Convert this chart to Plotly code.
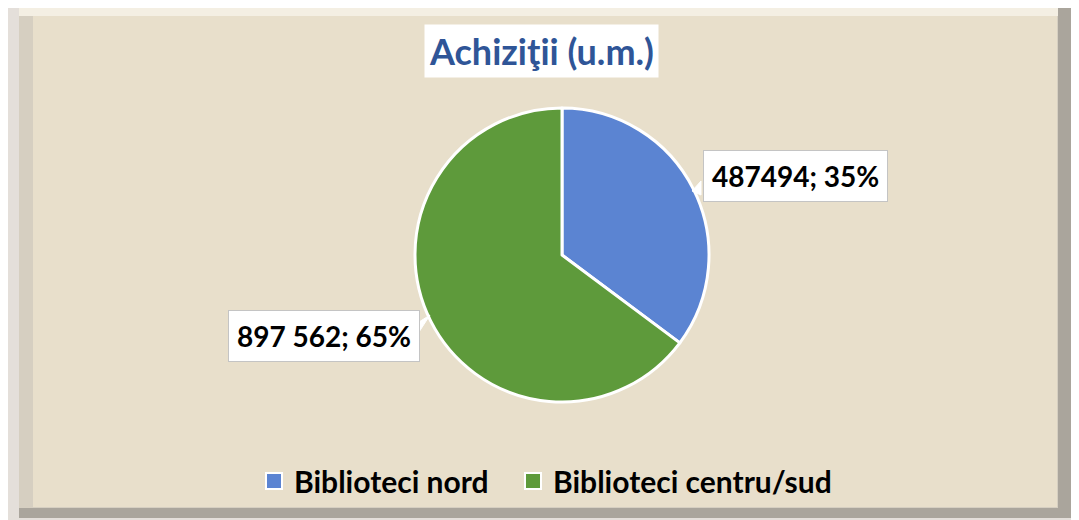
import plotly.graph_objects as go

# data
categories = ["Biblioteci nord", "Biblioteci centru/sud"]
values = [487494, 897562]
value_labels = ["487494", "897 562"]
colors = ["#5b84d2", "#5e9a3b"]
title_text = "Achiziţii (u.m.)"

FONT = "Lato"
W, H = 1079, 520
OFF = 8  # the page body keeps an 8px margin, so pull everything back by that much

total = sum(values)
percents = [round(v * 100 / total) for v in values]


def px_x(x):
    return (x - OFF) / W


def px_y(y):
    return 1 - (y - OFF) / H


fig = go.Figure()
fig.add_trace(go.Pie(labels=categories,
                     values=values,
                     sort=False,
                     direction='clockwise',
                     rotation=0,
                     marker=dict(colors=colors, line=dict(color='white', width=3)),
                     textinfo='none',
                     hoverinfo='label+value+percent',
                     showlegend=False,
                     domain=dict(x=[px_x(562 - 147), px_x(562 + 147)],
                                 y=[px_y(255 + 147), px_y(255 - 147)])))

# legend entries as square markers, one legend each so the gap can be set
legend_ids = ['legend', 'legend2']
for name, color, lg in zip(categories, colors, legend_ids):
    fig.add_trace(go.Scatter(x=[None], y=[None], mode='markers', name=name, legend=lg,
                             marker=dict(symbol='square', size=16, color=color,
                                         line=dict(color='white', width=2))))


def rect(x0, y0, x1, y1, color, line=None):
    return dict(type='rect', xref='paper', yref='paper',
                x0=px_x(x0), x1=px_x(x1), y0=px_y(y1), y1=px_y(y0),
                fillcolor=color, line=line or dict(width=0), layer='below')


def poly(points, color, line_color):
    path = 'M ' + ' L '.join(f'{px_x(x)},{px_y(y)}' for x, y in points) + ' Z'
    return dict(type='path', xref='paper', yref='paper', path=path,
                fillcolor=color, line=dict(color=line_color, width=1))


# framed panel with a bevelled edge
shapes = [
    rect(-10, -10, 1090, 530, '#e4dfda'),
    rect(19, 3, 1072, 518, '#aaa59c'),
    rect(19, 3, 1058, 508, '#d6cfc1'),
    rect(19, 3, 1058, 16, '#f4efe3'),
    rect(33, 16, 1057, 507, '#e8dfcb'),
]

annotations = [
    dict(text='<b>' + title_text + '</b>', x=px_x(541), y=px_y(51), xref='paper', yref='paper',
         showarrow=False, font=dict(family=FONT, size=36, color='#2f5597'),
         bgcolor='white', borderpad=4, xanchor='center', yanchor='middle'),
]

# callout labels next to each slice
label_pos = [(795, 176), (324, 336)]
pointers = [[(701, 181), (692, 191), (701, 195)], [(419, 322), (430, 315), (419, 332)]]
for (lx, ly), vl, pc in zip(label_pos, value_labels, percents):
    annotations.append(dict(text=f'<b>{vl}; {pc}%</b>', x=px_x(lx), y=px_y(ly),
                            xref='paper', yref='paper', showarrow=False,
                            font=dict(family=FONT, size=28, color='black'),
                            bgcolor='white', bordercolor='#c4c4c4', borderwidth=1, borderpad=8,
                            xanchor='center', yanchor='middle'))
for pts in pointers:
    shapes.append(poly(pts, 'white', 'white'))

legend_style = dict(orientation='h', xanchor='left', y=px_y(481), yanchor='middle',
                    font=dict(family=FONT, size=30, color='black', weight='bold'),
                    itemwidth=30, bgcolor='rgba(0,0,0,0)')

fig.update_layout(width=W, height=H,
                  margin=dict(l=0, r=0, t=0, b=0),
                  paper_bgcolor='#e4dfda',
                  plot_bgcolor='rgba(0,0,0,0)',
                  xaxis=dict(visible=False),
                  yaxis=dict(visible=False),
                  shapes=shapes,
                  annotations=annotations,
                  showlegend=True,
                  legend=dict(x=px_x(254), **legend_style),
                  legend2=dict(x=px_x(513), **legend_style),
                  font=dict(family=FONT))

fig.write_html("out.html")
